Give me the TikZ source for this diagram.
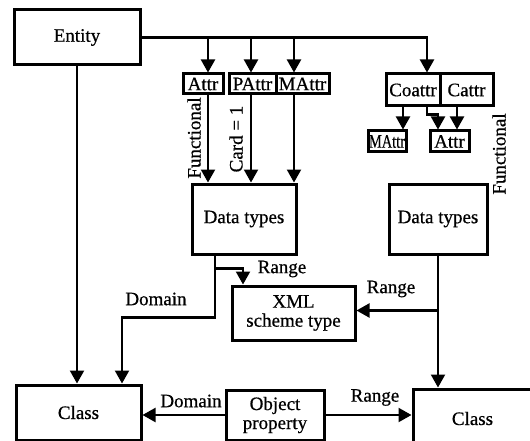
\documentclass[tikz,border=0pt]{standalone}
\usepackage{fontspec}
\usepackage{graphicx}
\setmainfont{Liberation Serif}[FakeBold=0.6]
\usetikzlibrary{arrows.meta}
\begin{document}
\begin{tikzpicture}[
    x=1pt, y=-1pt,
    font=\fontsize{19}{19}\selectfont,
    box/.style={draw, line width=3pt, inner sep=0pt, align=center},
    arrow/.style={-{Triangle[width=14pt, length=13pt]}, line width=2.2pt},
    lbl/.style={inner sep=0pt}
]
    \useasboundingbox (0,0) rectangle (530,441);

    % Entity and its attributes
    \node[box, minimum width=126pt, minimum height=55pt] (entity) at (77,37.5) {Entity};
    \node[box, minimum width=40pt, minimum height=20pt] (attr) at (203,84) {Attr};
    \node[box, minimum width=47pt, minimum height=20pt] (pattr) at (252.5,84) {PAttr};
    \node[box, minimum width=53pt, minimum height=20pt] (mattr) at (302.5,84) {MAttr};
    \node[box, minimum width=54pt, minimum height=32pt] (coattr) at (413,90) {Coattr};
    \node[box, minimum width=53pt, minimum height=32pt] (cattr) at (466.5,90) {Cattr};
    \node[box, minimum width=38pt, minimum height=21pt] (mattrb) at (387,141.5) {\scalebox{0.76}[1]{MAttr}};
    \node[box, minimum width=39pt, minimum height=21pt] (attrb) at (449.5,141.5) {Attr};

    % Data types
    \node[box, minimum width=104pt, minimum height=70pt] (datal) at (244,219) {Data types};
    \node[box, minimum width=98pt, minimum height=70pt] (datar) at (438,219) {Data types};
    \node[box, minimum width=123pt, minimum height=54pt] (xml) at (293.5,313) {XML\\scheme type};

    % Classes and object property
    \node[box, minimum width=125pt, minimum height=55pt] (classl) at (78.5,412.5) {Class};
    \node[box, minimum width=98pt, minimum height=50pt] (op) at (275,415) {Object\\property};
    \node[box, minimum width=119pt, minimum height=59pt] (classr) at (472.5,418.5) {Class};

    % Labels
    \node[lbl, rotate=90] (funcl) at (194,138) {Functional};
    \node[lbl, rotate=90] (cardl) at (236,139) {Card = 1};
    \node[lbl, rotate=90] (funcr) at (499,154) {Functional};
    \node[lbl] (rangel) at (282,269) {Range};
    \node[lbl] (domainl) at (156,299) {Domain};
    \node[lbl] (ranger) at (391,289) {Range};
    \node[lbl] (domainb) at (191,401) {Domain};
    \node[lbl] (rangeb) at (375,397.5) {Range};

    % Entity to attributes
    \draw[arrow] (entity.east) -| ([xshift=14pt]coattr.north);
    \foreach \n/\dx/\tx in {attr/5/-36, pattr/-1.5/7, mattr/-8.5/50} {
        \draw[arrow] ([xshift=\dx pt]\n.north) ++(0,-36) -- ([xshift=\dx pt]\n.north);
        \draw[arrow] ([xshift=\dx pt]\n.south) -- ([xshift=\tx pt]datal.north);
    }
    \draw[arrow] ([xshift=-10pt]coattr.south) -- ([xshift=16pt]mattrb.north);
    \draw[arrow] ([xshift=14pt]coattr.south) -- ++(0,7) -| ([xshift=-11.5pt]attrb.north);
    \draw[arrow] ([xshift=-9.5pt]cattr.south) -- ([xshift=7.5pt]attrb.north);

    % Entity to class
    \draw[arrow] (entity.south) -- (entity.south |- classl.north);

    % Data types: domain and range
    \draw[arrow] ([xshift=-29pt]datal.south) -- ++(0,62) -| ([xshift=43.5pt]classl.north);
    \draw[arrow] ([xshift=-29pt]datal.south) ++(0,13) -| ([xshift=-50.5pt]xml.north);
    \draw[arrow] (datar.south) -- ([xshift=-34.5pt]classr.north);
    \draw[arrow] (datar.south) ++(0,55) coordinate (rj) -- (rj -| xml.east);

    % Object property
    \draw[arrow] (op.west) -- (op.west -| classl.east);
    \draw[arrow] (op.east) -- (op.east -| classr.west);
\end{tikzpicture}
\end{document}
